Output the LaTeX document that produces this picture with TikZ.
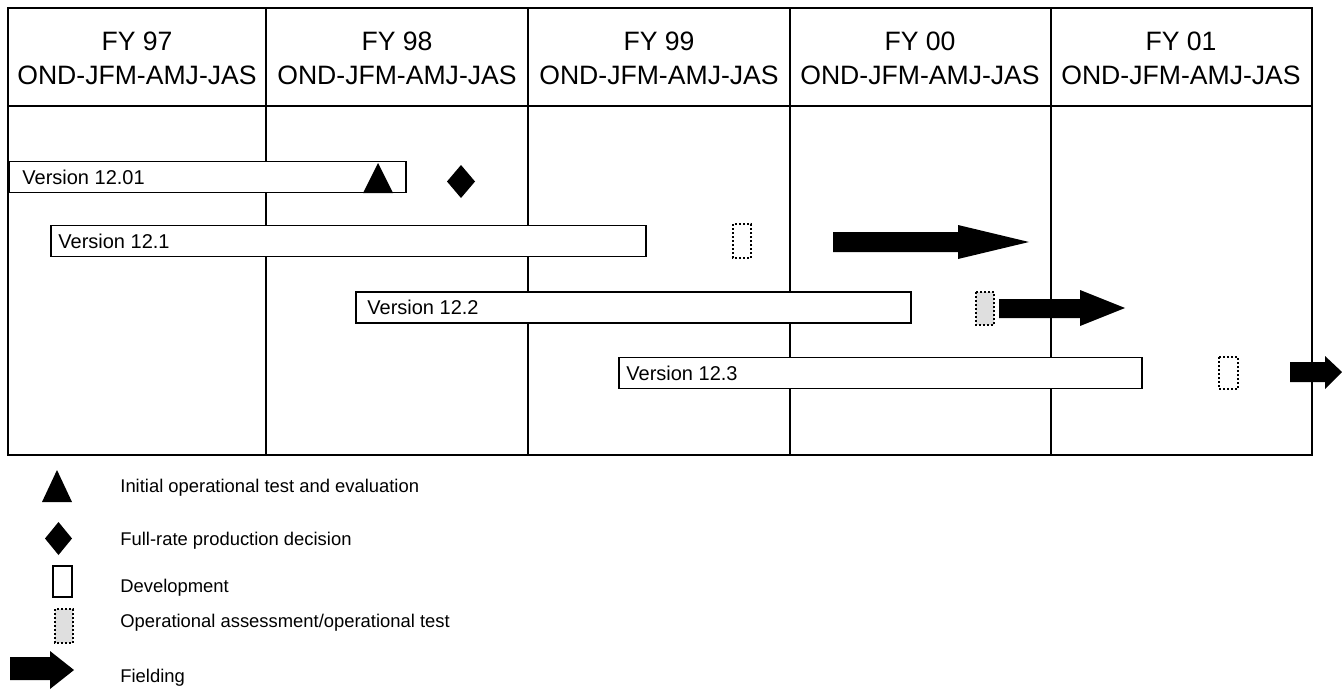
\documentclass[tikz,border=0pt]{standalone}
\usepackage{fontspec}
\setmainfont{Liberation Sans}
\usepackage{tikz}
\usetikzlibrary{arrows}

\tikzset{
  grid/.style={line width=1.1pt},
  fytext/.style={anchor=base, inner sep=0pt, font=\fontsize{13.3}{16}\selectfont},
  devbar/.style={draw, line width=0.8pt, fill=white, rectangle, anchor=west,
    minimum height=15.5pt, inner sep=0pt},
  vlabel/.style={anchor=west, xshift=4pt, inner sep=0pt, font=\fontsize{10}{12}\selectfont},
  optest/.style={draw, densely dotted, line width=1pt},
  milestone/.style={fill=black},
  fielding/.style={fill=black},
  legtext/.style={anchor=base west, inner sep=0pt, font=\fontsize{9.2}{11}\selectfont},
}

\begin{document}
\begin{tikzpicture}[x=0.5pt, y=-0.5pt]
    \useasboundingbox (0,0) rectangle (1342,690);
    % frame and columns
    \draw[grid] (8,8) rectangle (1312,455);
    \draw[grid] (8,106) -- (1312,106);
    \draw[grid] (266,8) -- (266,455);
    \draw[grid] (528,8) -- (528,455);
    \draw[grid] (790,8) -- (790,455);
    \draw[grid] (1051,8) -- (1051,455);
    % fiscal years
    \node[fytext] (fy97) at (137,51) {FY 97};
    \node[fytext] (q97) at (137,85) {OND-JFM-AMJ-JAS};
    \node[fytext] (fy98) at (397,51) {FY 98};
    \node[fytext] (q98) at (397,85) {OND-JFM-AMJ-JAS};
    \node[fytext] (fy99) at (659,51) {FY 99};
    \node[fytext] (q99) at (659,85) {OND-JFM-AMJ-JAS};
    \node[fytext] (fy00) at (920,51) {FY 00};
    \node[fytext] (q00) at (920,85) {OND-JFM-AMJ-JAS};
    \node[fytext] (fy01) at (1181,51) {FY 01};
    \node[fytext] (q01) at (1181,85) {OND-JFM-AMJ-JAS};
    % development bars
    \node[devbar, minimum width=198.5pt, label={[vlabel, xshift=3pt]west:Version 12.01}] (v1201) at (8,177) {};
    \node[devbar, minimum width=297.5pt, label={[vlabel]west:Version 12.1}] (v121) at (50,241) {};
    \node[devbar, minimum width=277.5pt, label={[vlabel, xshift=2pt]west:Version 12.2}] (v122) at (355,307.5) {};
    \node[devbar, minimum width=261.5pt, label={[vlabel]west:Version 12.3}] (v123) at (618,373) {};
    % milestones
    \fill[milestone] (363,193) -- (378,163) -- (393,193) -- cycle;
    \fill[milestone] (461,165) -- (475,181.5) -- (461,198) -- (447,181.5) -- cycle;
    % operational tests
    \draw[optest, fill=white] (733,224) rectangle (751,258);
    \draw[optest, fill=gray!25] (976,292) rectangle (994,325);
    \draw[optest, fill=white] (1219,357) rectangle (1238,389);
    % fielding
    \fill[fielding] (833,232) -- (958,232) -- (958,225) -- (1029,242) -- (958,259) -- (958,252) -- (833,252) -- cycle;
    \fill[fielding] (999,299) -- (1080,299) -- (1080,290) -- (1125,308) -- (1080,326) -- (1080,318) -- (999,318) -- cycle;
    \fill[fielding] (1290,362) -- (1325,362) -- (1325,356) -- (1342,372) -- (1325,389) -- (1325,382) -- (1290,382) -- cycle;
    % legend
    \fill[milestone] (42,502) -- (57,470) -- (72,502) -- cycle;
    \node[legtext] (leg1) at (120,492) {Initial operational test and evaluation};
    \fill[milestone] (58.5,522) -- (72,538.5) -- (58.5,555) -- (45,538.5) -- cycle;
    \node[legtext] (leg2) at (120,545) {Full-rate production decision};
    \draw[line width=0.8pt] (53,566) rectangle (72,597);
    \node[legtext] (leg3) at (120,592) {Development};
    \draw[optest, fill=gray!25] (55,609) rectangle (73,643);
    \node[legtext] (leg4) at (120,627) {Operational assessment/operational test};
    \fill[fielding] (10,657) -- (50,657) -- (50,651) -- (74,670) -- (50,689) -- (50,680) -- (10,680) -- cycle;
    \node[legtext] (leg5) at (120,682) {Fielding};
\end{tikzpicture}
\end{document}
